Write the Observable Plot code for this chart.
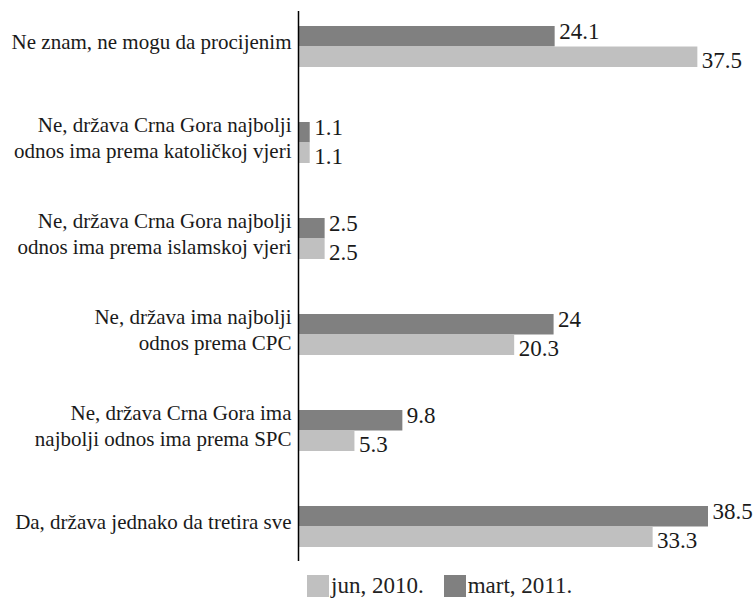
<!DOCTYPE html>
<html>
<head>
<meta charset="utf-8">
<script src="https://cdn.jsdelivr.net/npm/d3@7"></script>
<script src="https://cdn.jsdelivr.net/npm/@observablehq/plot@0.6"></script>
<style>
  body { margin: 0; background: #fff; font-family: "Liberation Serif", "Times New Roman", serif; }
  #chart svg { display: block; }
  #chart svg, #chart svg text { font-family: "Liberation Serif", "Times New Roman", serif !important; }
  .lg-swatches { margin-left: 307px !important; margin-top: 8px !important; min-height: 0 !important; font-family: "Liberation Serif", serif !important; font-size: 23px !important; color: #222 !important; }
  .lg-swatch { margin-right: 20px !important; }
  .lg-swatch > svg { margin-right: 2px !important; }
</style>
</head>
<body>
<div id="chart"></div>
<script>
const categories = [
  "Ne znam, ne mogu da procijenim",
  "Ne, država Crna Gora najbolji\nodnos ima prema katoličkoj vjeri",
  "Ne, država Crna Gora najbolji\nodnos ima prema islamskoj vjeri",
  "Ne, država ima najbolji\nodnos prema CPC",
  "Ne, država Crna Gora ima\nnajbolji odnos ima prema SPC",
  "Da, država jednako da tretira sve"
];
const series = ["jun, 2010.", "mart, 2011."];
const jun2010 = [37.5, 1.1, 2.5, 20.3, 5.3, 33.3];
const mart2011 = [24.1, 1.1, 2.5, 24, 9.8, 38.5];
const colors = ["#c0c0c0", "#808080"];

const junRows = categories.map((c, i) => ({category: c, series: series[0], value: jun2010[i]}));
const martRows = categories.map((c, i) => ({category: c, series: series[1], value: mart2011[i]}));

const W = 755, H = 565, mTop = 11, mBottom = 4, mLeft = 298, mRight = 47;
const pIn = 0.575, pOut = 0.137;
const step = (H - mTop - mBottom) / (categories.length - pIn + 2 * pOut);
const half = step * (1 - pIn) / 2;

const txt = {fill: "#1a1a1a"};

const plot = Plot.plot({
  width: W, height: H,
  marginTop: mTop, marginBottom: mBottom, marginLeft: mLeft, marginRight: mRight,
  style: {background: "#fff"},
  x: {domain: [0, 38.5], axis: null},
  y: {domain: categories, paddingInner: pIn, paddingOuter: pOut, axis: null},
  color: {domain: series, range: colors},
  marks: [
    Plot.barX(martRows, {x: "value", y: "category", fill: "series", insetBottom: half, insetLeft: 1}),
    Plot.barX(junRows, {x: "value", y: "category", fill: "series", insetTop: half, insetLeft: 1}),
    Plot.ruleX([0], {stroke: "#000", strokeWidth: 1.5}),
    Plot.text(martRows, {x: "value", y: "category", text: d => String(d.value), dx: 4, dy: -15, textAnchor: "start", fontSize: 23, ...txt}),
    Plot.text(junRows, {x: "value", y: "category", text: d => String(d.value), dx: 4, dy: 14, textAnchor: "start", fontSize: 23, ...txt}),
    Plot.text(categories, {x: 0, y: d => d, text: d => d, dx: -7, dy: -6, textAnchor: "end", fontSize: 21, lineHeight: 1.24, ...txt})
  ]
});
document.getElementById("chart").appendChild(plot);

const legend = Plot.legend({
  color: {domain: series, range: colors},
  legend: "swatches",
  swatchSize: 22,
  className: "lg"
});
document.getElementById("chart").appendChild(legend);
</script>
</body>
</html>
